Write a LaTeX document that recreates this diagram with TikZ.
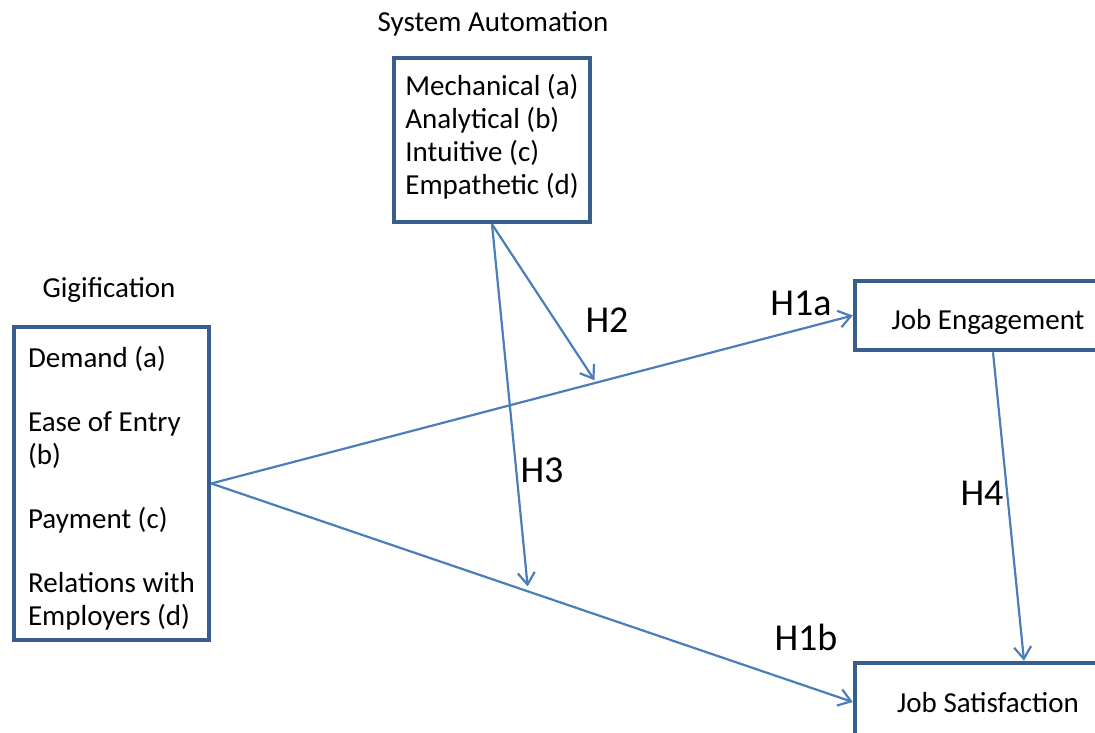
\documentclass[tikz,border=0pt]{standalone}
\usepackage{fontspec}
\setmainfont{Carlito}
\usetikzlibrary{arrows.meta}
\definecolor{boxblue}{HTML}{385D8A}
\definecolor{lineblue}{HTML}{4A7EBB}
\begin{document}
\begin{tikzpicture}[x=1pt,y=-1pt,
  var/.style={draw=boxblue,line width=4.5pt,align=left,inner sep=0pt,font=\fontsize{29}{33}\selectfont},
  title/.style={anchor=base,inner sep=0pt,font=\fontsize{29}{33}\selectfont},
  hyp/.style={anchor=base,inner sep=0pt,font=\fontsize{38}{44}\selectfont},
  link/.style={draw=lineblue,line width=2.2pt,-{Straight Barb[length=12pt,width=17pt]}}]
\useasboundingbox (0,0) rectangle (1095,733);
\node[var,minimum width=196pt,minimum height=164pt] (auto) at (492,140) {Mechanical (a)\\Analytical (b)\\Intuitive (c)\\Empathetic (d)\rule[-11pt]{0pt}{11pt}};
\node[var,minimum width=195pt,minimum height=313pt] (gig) at (111.5,483.5) {\rule{0pt}{30pt}Demand (a)\\[31pt]Ease of Entry\\(b)\\[31pt]Payment (c)\\[31pt]Relations with\\Employers (d)};
\node[var,minimum width=266pt,minimum height=69pt,text height=27pt,text depth=0pt] (eng) at (988,315.5) {Job Engagement};
\node[var,minimum width=266pt,minimum height=78pt,text height=20pt,text depth=0pt] (sat) at (988,702) {Job Satisfaction};
\node[title] (autotitle) at (493,32) {System Automation};
\node[title] (gigtitle) at (109,297) {Gigification};
\path (gig.east) -- (eng.west) coordinate[pos=0.6] (onA);
\path (gig.east) -- (sat.west) coordinate[pos=0.494] (onB);
\draw[link] (gig.east) -- (eng.west);
\draw[link] (gig.east) -- (sat.west);
\draw[link,shorten >=3pt] (auto.south) -- (onA);
\draw[link,shorten >=5pt] (auto.south) -- (onB);
\draw[link] ([xshift=5pt]eng.south) -- ([xshift=36pt]sat.north);
\node[hyp] (h1a) at (801,315) {H1a};
\node[hyp] (h1b) at (806,650) {H1b};
\node[hyp] (h2) at (607,332) {H2};
\node[hyp] (h3) at (542,482) {H3};
\node[hyp] (h4) at (982,505) {H4};
\end{tikzpicture}
\end{document}
